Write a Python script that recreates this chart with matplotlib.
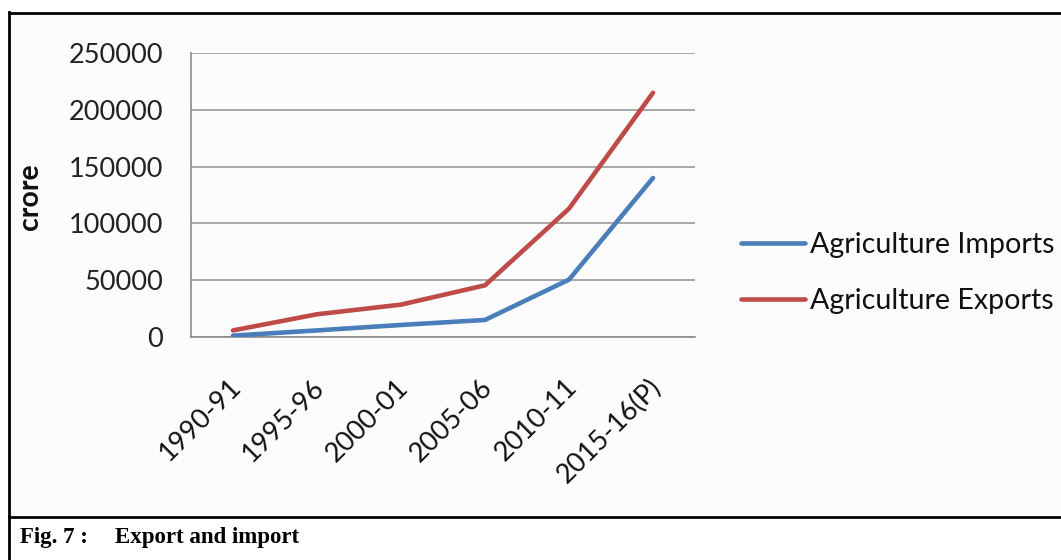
import matplotlib
matplotlib.use("Agg")
import matplotlib.pyplot as plt
from matplotlib.lines import Line2D
from matplotlib.transforms import ScaledTranslation

# Agricultural trade values (Rs. crore)
years = ["1990-91", "1995-96", "2000-01", "2005-06", "2010-11", "2015-16(P)"]
imports = [1200, 5800, 10600, 15000, 50500, 140000]
exports = [5800, 20000, 28500, 45500, 113000, 215000]
yticks = [0, 50000, 100000, 150000, 200000, 250000]

W, H = 1061, 560
fig = plt.figure(figsize=(W / 100, H / 100), dpi=100)
fig.patch.set_facecolor("white")

def fx(px):
    return px / W

def fy(py):
    return 1 - py / H

# chart panel background
fig.add_artist(plt.Rectangle((fx(10), fy(516)), fx(1061) - fx(10), fy(14) - fy(516),
                             transform=fig.transFigure, facecolor="#fcfcfc",
                             edgecolor="none", zorder=0))

ax = fig.add_axes([fx(191), fy(337), fx(695) - fx(191), fy(53) - fy(337)])
ax.set_facecolor("none")

x = range(len(years))
ax.plot(x, imports, color="#4a7ebb", lw=3.3, solid_capstyle="round",
        solid_joinstyle="round", label="Agriculture Imports", zorder=3)
ax.plot(x, exports, color="#be4b48", lw=3.3, solid_capstyle="round",
        solid_joinstyle="round", label="Agriculture Exports", zorder=3)

ax.set_xlim(-0.5, len(years) - 0.5)
ax.set_ylim(0, 250000)
ax.set_yticks(yticks)
ax.set_yticklabels([str(v) for v in yticks])
ax.set_xticks(list(x))
ax.set_xticklabels(years, rotation=45, ha="right", va="top",
                   rotation_mode="anchor")

for s in ["top", "right"]:
    ax.spines[s].set_visible(False)
for s in ["left", "bottom"]:
    ax.spines[s].set_color("#8c8c8c")
    ax.spines[s].set_linewidth(1.2)

ax.yaxis.grid(True, color="#9a9a9a", lw=1.2)
ax.set_axisbelow(True)
ax.tick_params(axis="y", length=0, pad=20, labelsize=19.5, labelcolor="#222222")
ax.tick_params(axis="x", length=0, pad=27, labelsize=19.5, labelcolor="#111111")
shift = ScaledTranslation(-5 / 100, 0, fig.dpi_scale_trans)
for lab in ax.get_xticklabels():
    lab.set_family("Lato")
    lab.set_transform(lab.get_transform() + shift)
for lab in ax.get_yticklabels():
    lab.set_family("Lato")

fig.text(fx(30), fy(197), "crore", rotation=90, ha="center", va="center",
         fontsize=20.5, fontweight="bold", family="Lato", color="#111111")

leg = ax.legend(loc="center left", bbox_to_anchor=(fx(741), fy(273)),
                bbox_transform=fig.transFigure, frameon=False,
                prop={"family": "Lato", "size": 20.6},
                handlelength=2.25, handletextpad=0.17, labelspacing=1.08,
                borderaxespad=0, borderpad=0)
for t in leg.get_texts():
    t.set_color("#111111")

# outer frame and caption divider
frame_kw = dict(color="black", lw=2.0, transform=fig.transFigure, zorder=5)
fig.add_artist(Line2D([fx(9), fx(9)], [fy(12), 0], **frame_kw))
fig.add_artist(Line2D([fx(9), 1], [fy(13), fy(13)], **frame_kw))
fig.add_artist(Line2D([fx(9), 1], [fy(517), fy(517)], **frame_kw))

fig.text(fx(20), fy(537), "Fig. 7 :", ha="left", va="center",
         fontsize=16.5, fontweight="bold", family="Liberation Serif")
fig.text(fx(115), fy(537), "Export and import", ha="left", va="center",
         fontsize=16.5, fontweight="bold", family="Liberation Serif")

fig.savefig("out.png", dpi=100)
